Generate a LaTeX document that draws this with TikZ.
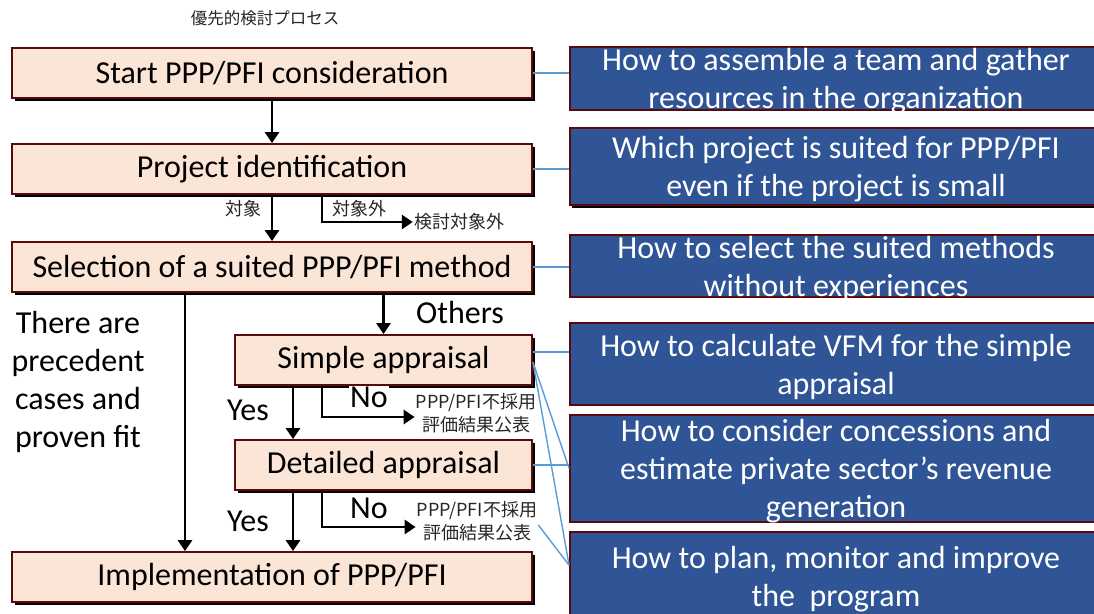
\documentclass[tikz,border=0pt]{standalone}
\usepackage{fontspec}
\setmainfont{Carlito}
\newfontfamily\jp{Noto Sans CJK JP}
\usepackage{tikz}
\usetikzlibrary{arrows.meta, calc, shadows}

\definecolor{peach}{HTML}{FBE5D6}
\definecolor{maroon}{HTML}{5A0A0A}
\definecolor{helpblue}{HTML}{2F5597}
\definecolor{linkblue}{HTML}{5B9BD5}

\tikzset{
  stage/.style={draw=maroon, line width=1.8pt, fill=peach, minimum height=50, inner sep=0,
    font=\fontsize{32}{38}\selectfont,
    drop shadow={shadow xshift=2.5pt, shadow yshift=-2.5pt, fill=black, opacity=1}},
  helpbox/.style={draw=maroon, line width=1.8pt, fill=helpblue, minimum width=532, inner sep=0},
  helptxt/.style={text=white, align=center, yshift=-3pt, font=\fontsize{32}{38}\selectfont},
  lbl/.style={inner sep=1pt, font=\fontsize{32}{38}\selectfont},
  jplbl/.style={inner sep=1pt, text=black!85, font=\jp\fontsize{18}{23}\selectfont},
  arr/.style={line width=2.8pt, -{Triangle[length=11pt, width=14pt]}},
  link/.style={draw=linkblue, line width=1.4pt}
}

\begin{document}
\begin{tikzpicture}[x=1pt, y=-1pt]
  \useasboundingbox (0,0) rectangle (1094,613);
  \clip (0,0) rectangle (1094,613);

  \node[jplbl, font=\jp\fontsize{16.5}{20}\selectfont] (title) at (265,18) {優先的検討プロセス};

  % flow boxes
  \node[stage, minimum width=520] (start) at (272,73) {Start PPP/PFI consideration};
  \node[stage, minimum width=520] (ident) at (272,169) {Project identification};
  \node[stage, minimum width=520] (select) at (272,267) {Selection of a suited PPP/PFI method};
  \node[stage, minimum width=297] (simple) at (383.5,360) {Simple appraisal};
  \node[stage, minimum width=297] (detail) at (383.5,465) {Detailed appraisal};
  \node[stage, minimum width=520] (impl) at (272,577) {Implementation of PPP/PFI};

  % help boxes
  \node[helpbox, minimum height=63] (h1) at (836,78.5) {};
  \node[helptxt] at (h1) {How to assemble a team and gather\\resources in the organization};
  \node[helpbox, minimum height=77, drop shadow={shadow xshift=1.5pt, shadow yshift=-2.5pt, fill=black, opacity=1}] (h2) at (836,166.5) {};
  \node[helptxt] at (h2) {Which project is suited for PPP/PFI\\even if the project is small};
  \node[helpbox, minimum height=62] (h3) at (836,266) {};
  \node[helptxt] at (h3) {How to select the suited methods\\without experiences};
  \node[helpbox, minimum height=82] (h4) at (836,364) {};
  \node[helptxt] at (h4) {How to calculate VFM for the simple\\appraisal};
  \node[helpbox, minimum height=107] (h5) at (836,468.5) {};
  \node[helptxt] at (h5) {How to consider concessions and\\estimate private sector’s revenue\\generation};
  \node[helpbox, minimum height=88] (h6) at (836,576) {};
  \node[helptxt] at (h6) {How to plan, monitor and improve\\the\ \ program};

  % labels
  \node[jplbl] (tgt) at (243,209) {対象};
  \node[jplbl] (ntgt) at (359,209) {対象外};
  \node[jplbl] (outside) at (459,222) {検討対象外};
  \node[lbl] (others) at (460,313) {Others};
  \node[lbl, align=center] (prec) at (78,382) {There are\\precedent\\cases and\\proven fit};
  \node[lbl, fill=white] (no1) at (369,397) {No};
  \node[lbl] (yes1) at (248,410) {Yes};
  \node[jplbl, align=center] (rej1) at (476,413) {PPP/PFI不採用\\評価結果公表};
  \node[lbl, fill=white] (no2) at (369,508) {No};
  \node[lbl] (yes2) at (248,521) {Yes};
  \node[jplbl, align=center] (rej2) at (477,521) {PPP/PFI不採用\\評価結果公表};

  \coordinate (lft) at (185,0);
  \coordinate (mid) at (293,0);
  \coordinate (br) at (322,0);

  % arrows
  \draw[arr] (start) -- (ident);
  \draw[arr] (ident) -- (select);
  \draw[arr] (ident.south -| br) |- (outside.west);
  \draw[arr] (select.south -| simple.north) -- (simple.north);
  \draw[arr] (select.south -| lft) -- (impl.north -| lft);
  \draw[arr] (simple.south -| mid) -- (detail.north -| mid);
  \draw[arr] (simple.south -| br) |- ([yshift=-4]rej1.west);
  \draw[arr] (detail.south -| mid) -- (impl.north -| mid);
  \draw[arr] (detail.south -| br) |- ([yshift=-6]rej2.west);

  % links
  \draw[link] (start.east) -- (start.east -| h1.west);
  \draw[link] (ident.east) -- (ident.east -| h2.west);
  \draw[link] (select.east) -- (select.east -| h3.west);
  \draw[link] ([yshift=8]simple.east) -- ([yshift=8]simple.east -| h4.west);
  \draw[link] ([yshift=-2]simple.east) -- (h5.west);
  \draw[link] ([yshift=-2]simple.east) -- ($(h6.north west)!0.38!(h6.south west)$);
  \draw[link] (detail.east) -- (detail.east -| h5.west);
  \draw[link] ([yshift=-4]rej2.east) -- ($(h6.north west)!0.38!(h6.south west)$);
\end{tikzpicture}
\end{document}
